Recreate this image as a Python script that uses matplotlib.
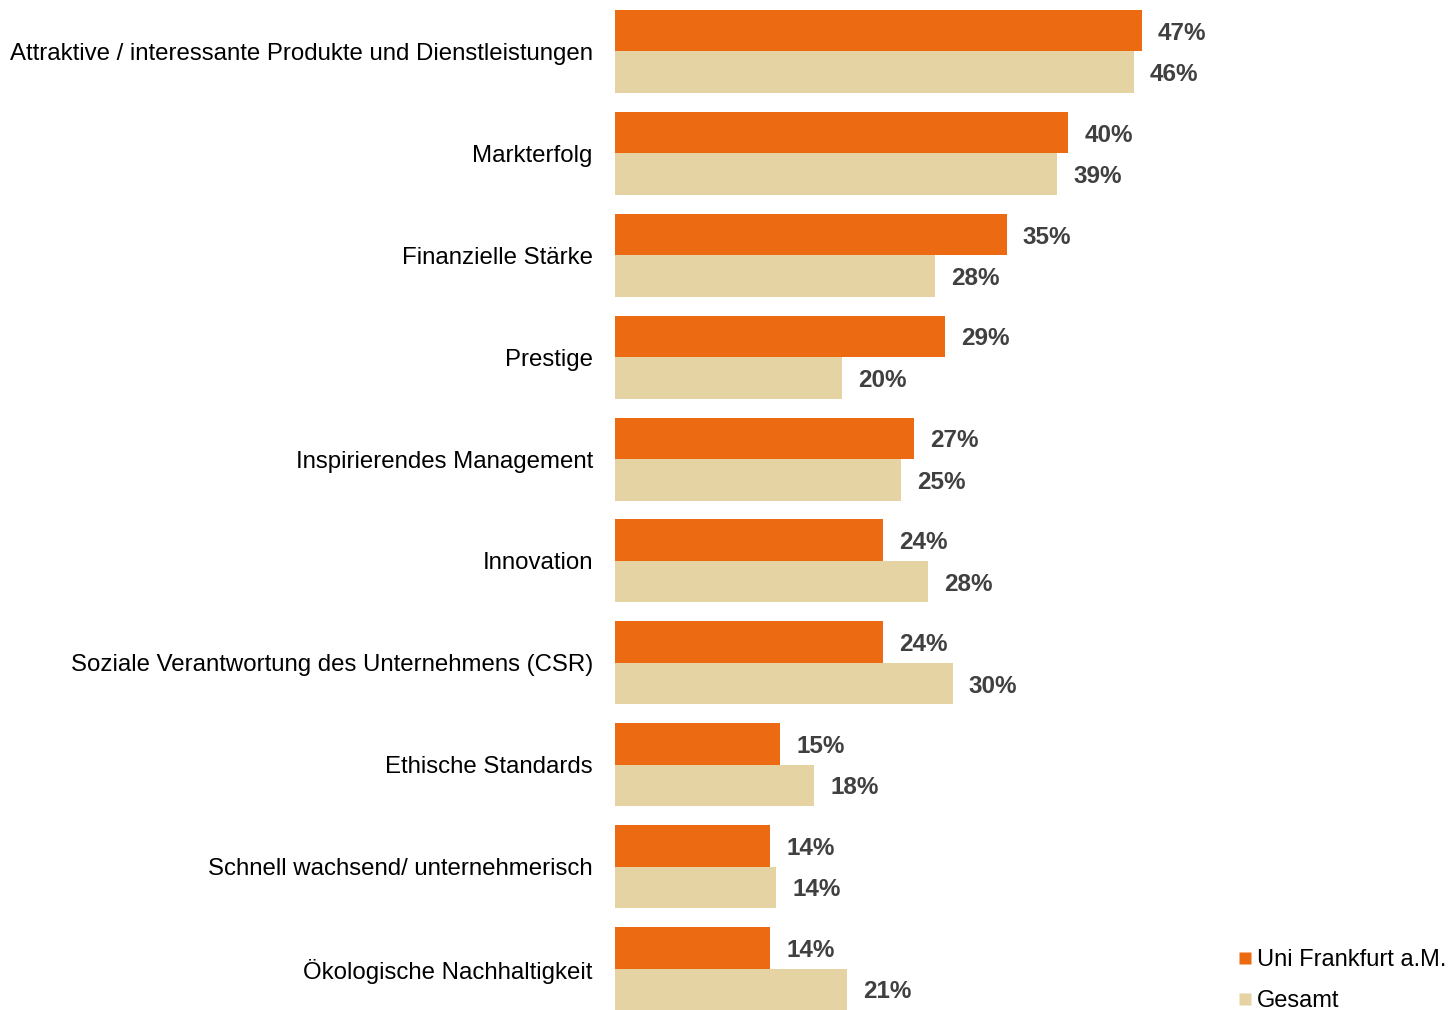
import matplotlib.pyplot as plt
from matplotlib.lines import Line2D
import numpy as np

plt.rcParams['font.family'] = ['Liberation Sans', 'DejaVu Sans']

categories = ['Attraktive / interessante Produkte und Dienstleistungen',
              'Markterfolg',
              'Finanzielle Stärke',
              'Prestige',
              'Inspirierendes Management',
              'Innovation',
              'Soziale Verantwortung des Unternehmens (CSR)',
              'Ethische Standards',
              'Schnell wachsend/ unternehmerisch',
              'Ökologische Nachhaltigkeit']
uni_ffm = [46.8, 40.3, 34.8, 29.3, 26.6, 23.8, 23.8, 14.7, 13.8, 13.8]
gesamt = [46.1, 39.3, 28.4, 20.2, 25.4, 27.8, 30.0, 17.7, 14.3, 20.6]

orange = '#EC6A12'
beige = '#E6D3A3'
label_col = '#404040'

fig = plt.figure(figsize=(14.51, 10.10), dpi=100)
ax = fig.add_axes([615/1451, 0.0, 675/1451, 1000/1010])

y = np.arange(len(categories))
h = 0.407
ax.barh(y - h/2, uni_ffm, height=h, color=orange, label='Uni Frankfurt a.M.')
ax.barh(y + h/2, gesamt, height=h, color=beige, label='Gesamt')

for yi, v in zip(y, uni_ffm):
    ax.text(v + 1.45, yi - h/2, f'{v:.0f}%', va='center_baseline', ha='left',
            fontsize=17.5, fontweight='bold', color=label_col)
for yi, v in zip(y, gesamt):
    ax.text(v + 1.45, yi + h/2, f'{v:.0f}%', va='center_baseline', ha='left',
            fontsize=17.5, fontweight='bold', color=label_col)

ax.set_xlim(0, 60)
ax.set_ylim(len(categories) - 1 + h, -h)
ax.set_yticks(y)
ax.set_yticklabels(categories, fontsize=17.3, color='black')
ax.tick_params(axis='y', length=0, pad=16)
ax.set_xticks([])
for s in ax.spines.values():
    s.set_visible(False)

handles = [Line2D([], [], marker='s', color='none', markerfacecolor=orange,
                  markeredgecolor='none', markersize=9),
           Line2D([], [], marker='s', color='none', markerfacecolor=beige,
                  markeredgecolor='none', markersize=9)]
fig.legend(handles, ['Uni Frankfurt a.M.', 'Gesamt'], loc='lower left',
           bbox_to_anchor=(1217/1451, -0.023), frameon=False, fontsize=17,
           handlelength=0.6, handletextpad=0.2, labelspacing=0.8)

fig.savefig('out.png', dpi=100)
